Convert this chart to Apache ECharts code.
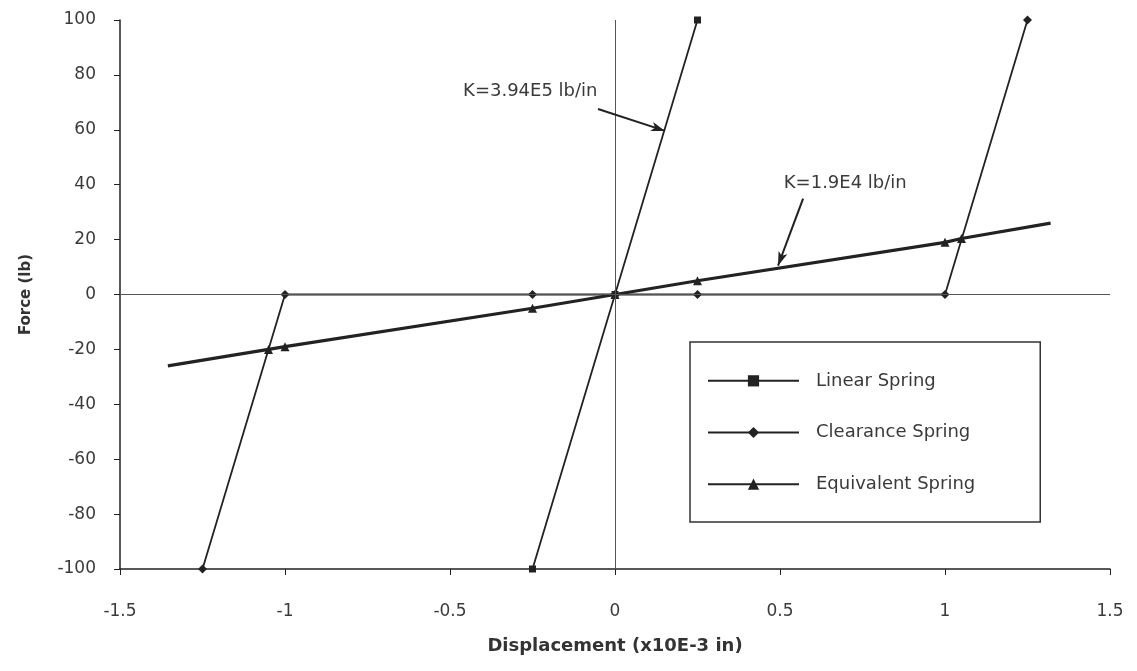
<!DOCTYPE html>
<html>
<head>
  <title>spring</title>
  <script src="https://cdn.jsdelivr.net/npm/echarts@6/dist/echarts.min.js"></script>
</head>
<body style="margin:0;background:#fff">
  <div id="main" style="width:1137px;height:671px;"></div>
  <script>
    // data
    var linearSpring = [[-0.25, -100], [0, 0], [0.25, 100]];
    var clearanceSpring = [[-1.25, -100], [-1, 0], [-0.25, 0], [0, 0], [0.25, 0], [1, 0], [1.25, 100]];
    var equivalentSpring = [[-1.355, -26], [-1.05, -20], [-1, -19], [-0.25, -5], [0, 0], [0.25, 5], [1, 19], [1.05, 20.4], [1.32, 26]];
    var xTicks = [-1.5, -1, -0.5, 0, 0.5, 1, 1.5];
    var yTicks = [-100, -80, -60, -40, -20, 0, 20, 40, 60, 80, 100];
    // annotations: text anchor, arrow start, arrow end (data units)
    var noteStiff = { text: 'K=3.94E5 lb/in', at: [-0.0515, 74], from: [-0.0515, 67.6], to: [0.1515, 59.6] };
    var noteSoft = { text: 'K=1.9E4 lb/in', at: [0.51, 40.5], from: [0.57, 34.9], to: [0.494, 10.5] };

    var ink = '#222';
    var txt = '#3a3a3a';
    var font = '"DejaVu Sans", sans-serif';
    var myChart = echarts.init(document.getElementById('main'));

    // no markers on the two ends of the equivalent line
    var eqData = equivalentSpring.map(function (p, i) {
      var end = i === 0 || i === equivalentSpring.length - 1;
      return end ? { value: p, symbol: 'none' } : p;
    });

    var option = {
      animation: false,
      textStyle: { fontFamily: font },
      grid: { left: 120, right: 27, top: 20, bottom: 102, containLabel: false, outerBoundsMode: 'none' },
      legend: {
        orient: 'vertical',
        left: 690,
        top: 342,
        padding: [21, 65, 20, 17],
        itemWidth: 91,
        itemHeight: 14,
        itemGap: 16,
        borderColor: '#333',
        borderWidth: 1.5,
        textStyle: { fontSize: 18, color: txt, fontFamily: font, padding: [0, 0, 0, 12] },
        data: ['Linear Spring', 'Clearance Spring', 'Equivalent Spring']
      },
      xAxis: {
        type: 'value',
        min: -1.5,
        max: 1.5,
        interval: 0.5,
        name: 'Displacement (x10E-3 in)',
        nameLocation: 'middle',
        nameGap: 58,
        nameMoveOverlap: false,
        nameTextStyle: { fontSize: 18, fontWeight: 'bold', color: '#333', fontFamily: font },
        axisLine: { onZero: false, lineStyle: { color: ink, width: 1.5 } },
        axisTick: { length: 6, lineStyle: { color: ink } },
        axisLabel: {
          fontSize: 17, color: txt, margin: 26,
          formatter: function (v) { return xTicks.indexOf(v) >= 0 ? String(v) : ''; }
        },
        splitLine: { show: false }
      },
      yAxis: {
        type: 'value',
        min: -100,
        max: 100,
        interval: 20,
        name: 'Force (lb)',
        nameLocation: 'middle',
        nameGap: 78,
        nameMoveOverlap: false,
        nameTextStyle: { fontSize: 15, fontWeight: 'bold', color: '#333', fontFamily: font },
        axisLine: { show: true, onZero: false, lineStyle: { color: ink, width: 1.5 } },
        axisTick: { show: true, length: 6, lineStyle: { color: ink } },
        axisLabel: {
          fontSize: 17, color: txt, margin: 24,
          formatter: function (v) { return yTicks.indexOf(v) >= 0 ? String(v) : ''; }
        },
        splitLine: { show: false }
      },
      series: [
        {
          name: 'Linear Spring',
          type: 'line',
          data: linearSpring,
          symbol: 'rect',
          symbolSize: 7,
          itemStyle: { color: ink },
          lineStyle: { color: ink, width: 1.8 },
          markLine: {
            silent: true,
            symbol: 'none',
            label: { show: false },
            lineStyle: { color: '#555', width: 1, type: 'solid' },
            data: [{ xAxis: 0 }, { yAxis: 0 }]
          }
        },
        {
          name: 'Clearance Spring',
          type: 'line',
          data: clearanceSpring,
          symbol: 'diamond',
          symbolSize: 9,
          itemStyle: { color: ink },
          lineStyle: { color: ink, width: 1.8 }
        },
        {
          name: 'Equivalent Spring',
          type: 'line',
          data: eqData,
          symbol: 'triangle',
          symbolSize: 9,
          itemStyle: { color: ink },
          lineStyle: { color: ink, width: 3.2 }
        },
        {
          name: 'notes',
          type: 'scatter',
          data: [],
          silent: true,
          markLine: {
            silent: true,
            lineStyle: { color: ink, width: 2, type: 'solid' },
            label: { show: false },
            data: [
              [{ coord: noteStiff.from, symbol: 'none' }, { coord: noteStiff.to, symbol: 'arrow', symbolSize: [7, 14] }],
              [{ coord: noteSoft.from, symbol: 'none' }, { coord: noteSoft.to, symbol: 'arrow', symbolSize: [7, 14] }]
            ]
          },
          markPoint: {
            silent: true,
            symbol: 'circle',
            symbolSize: 1,
            itemStyle: { color: 'rgba(0,0,0,0)' },
            data: [
              { coord: noteStiff.at, label: { show: true, position: 'left', distance: 0, formatter: noteStiff.text, fontSize: 18, color: txt } },
              { coord: noteSoft.at, label: { show: true, position: 'right', distance: 0, formatter: noteSoft.text, fontSize: 18, color: txt } }
            ]
          }
        }
      ]
    };
    myChart.setOption(option);
  </script>
</body>
</html>
